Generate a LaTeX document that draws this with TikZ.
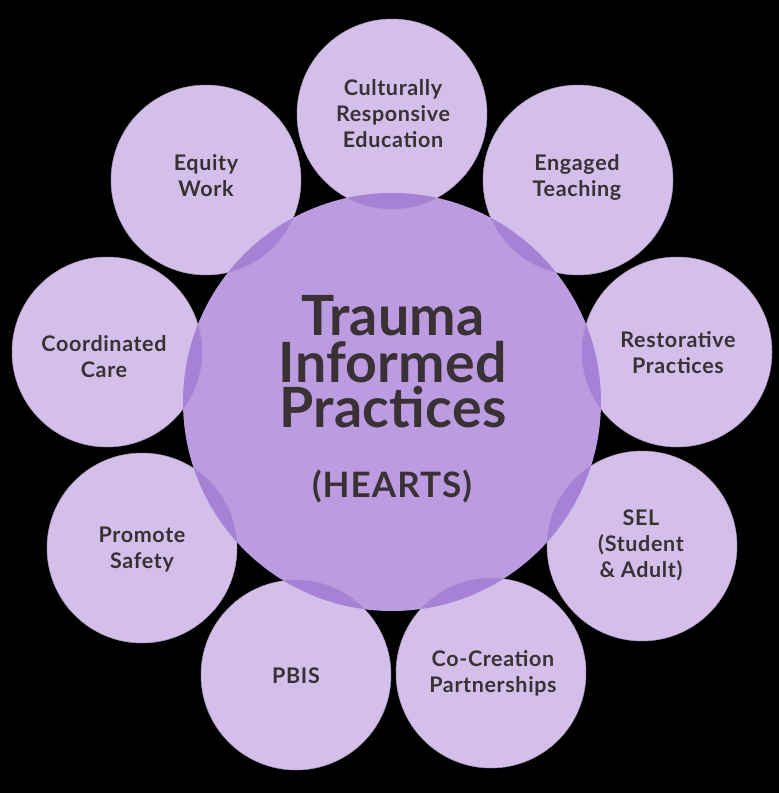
\documentclass[tikz,border=0pt]{standalone}
\usepackage{fontspec}
\setmainfont{Lato}
\newfontfamily\lblfont[LetterSpace=3]{Lato}
\newfontfamily\bigfont[LetterSpace=0.5]{Lato}
\definecolor{bgc}{HTML}{000000}
\definecolor{outerc}{HTML}{D3BFEA}
\definecolor{centerc}{HTML}{BB9CE1}
\definecolor{lensc}{HTML}{A682D6}
\definecolor{edgec}{HTML}{A898B8}
\definecolor{txtc}{HTML}{3A3134}
\begin{document}
\begin{tikzpicture}[x=1pt,y=-1pt,
  outercirc/.style={circle,fill=outerc,draw=edgec,line width=0.5pt,minimum size=190pt,inner sep=0pt},
  centercirc/.style={circle,fill=centerc,minimum size=418pt,inner sep=0pt},
  lbl/.style={text=txtc,font=\lblfont\fontsize{21.5}{26}\selectfont\bfseries,align=center,inner sep=0pt},
  bigl/.style={text=txtc,font=\bigfont\fontsize{55.5}{46}\selectfont\bfseries,inner sep=0pt,anchor=base,text height=40pt,text depth=0pt}
]
\fill[bgc] (0,0) rectangle (779,793);
\useasboundingbox (0,0) rectangle (779,793);
\node[centercirc] (ctr) at (392,402) {};
\foreach \n/\x/\y in {c1/392/114, c2/578/180, c3/677/352, c4/642/546, c5/491/673, c6/296/675, c7/142/548, c8/107/352, c9/206/180}{
  \node[outercirc] (\n) at (\x,\y) {};
  \begin{scope}
    \clip (\x,\y) circle[radius=95pt];
    \fill[lensc] (ctr.center) circle[radius=209pt];
  \end{scope}
}
\node[lbl] (t1) at (393,114) {Culturally\\Responsive\\Education};
\node[lbl] (t2) at (577,177) {Engaged\\Teaching};
\node[lbl] (t3) at (678,353) {Restorative\\Practices};
\node[lbl] (t4) at (641,545) {SEL\\(Student\\\&~Adult)};
\node[lbl] (t5) at (493,673) {Co-Creation\\Partnerships};
\node[lbl] (t6) at (296,676) {PBIS};
\node[lbl] (t7) at (142,550) {Promote\\Safety};
\node[lbl] (t8) at (104,357) {Coordinated\\Care};
\node[lbl] (t9) at (206,176) {Equity\\Work};
\node[bigl] (tc1) at (393,335) {Trauma};
\node[bigl] (tc2) at (393,382) {Informed};
\node[bigl] (tc3) at (393,427) {Practices};
\node[text=txtc,font=\lblfont\fontsize{35}{40}\selectfont\bfseries,inner sep=0pt,anchor=base] (th) at (392,497) {(HEARTS)};
\end{tikzpicture}
\end{document}
